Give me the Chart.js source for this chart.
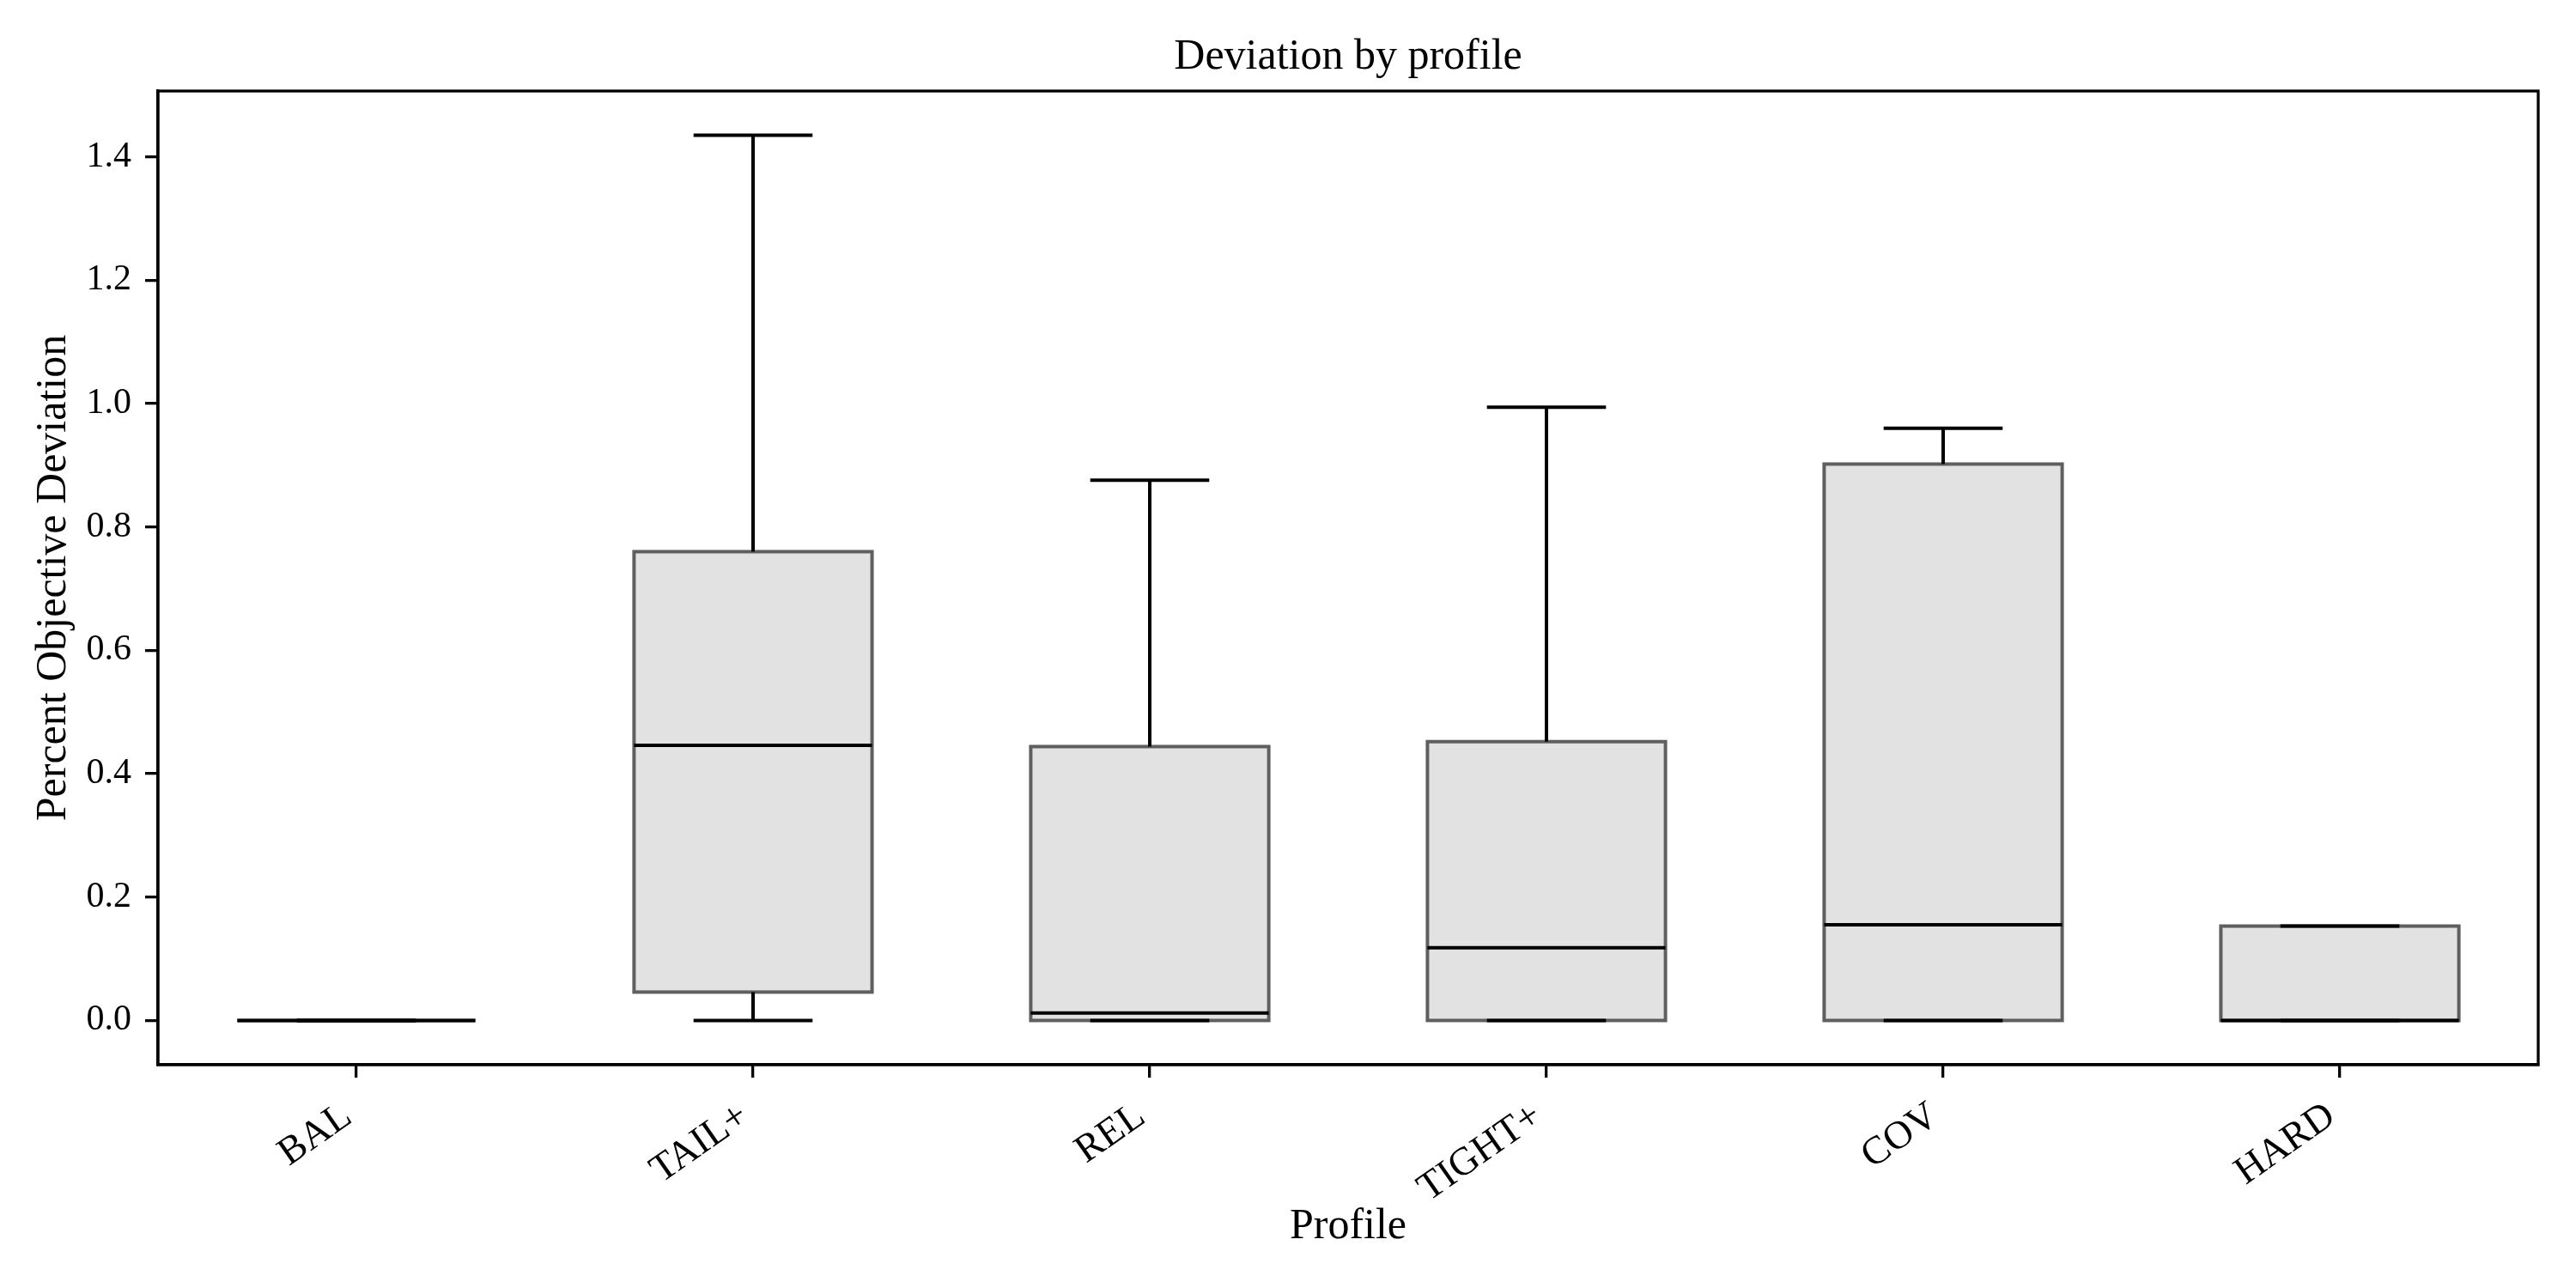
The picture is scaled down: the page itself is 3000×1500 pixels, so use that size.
<!DOCTYPE html>
<html>
<head>
<meta charset="utf-8">
<script src="https://cdn.jsdelivr.net/npm/chart.js@4.4.1/dist/chart.umd.min.js"></script>
<style>
  html, body { margin: 0; padding: 0; background: #fff; }
  #wrap { width: 3000px; height: 1500px; }
</style>
</head>
<body>
<div id="wrap"><canvas id="chart"></canvas></div>
<script>
// box plot stats per profile
const profiles = ['BAL', 'TAIL+', 'REL', 'TIGHT+', 'COV', 'HARD'];
const whiskerLow = [0, 0, 0, 0, 0, 0];
const q1 = [0, 0.046, 0, 0, 0, 0];
const medians = [0, 0.446, 0.012, 0.118, 0.155, 0];
const q3 = [0, 0.760, 0.444, 0.452, 0.902, 0.153];
const whiskerHigh = [0, 1.435, 0.876, 0.994, 0.960, 0.153];
const yTicks = [0.0, 0.2, 0.4, 0.6, 0.8, 1.0, 1.2, 1.4];
const yMin = -0.0718;
const yMax = 1.5068;

const FONT = "'Liberation Serif', 'DejaVu Serif', serif";

// box edges (centred on the box outline like matplotlib), whiskers, caps, medians, frame
const boxWhiskers = {
    id: 'boxWhiskers',
    afterDatasetsDraw(chart) {
        const { ctx, scales: { x, y } } = chart;
        const bars = chart.getDatasetMeta(0).data;
        const line = (x0, y0, x1, y1) => {
            ctx.beginPath();
            ctx.moveTo(x0, y0);
            ctx.lineTo(x1, y1);
            ctx.stroke();
        };
        ctx.save();
        ctx.lineCap = 'butt';
        ctx.lineJoin = 'miter';

        // box outlines
        ctx.strokeStyle = '#5f5f5f';
        ctx.lineWidth = 4;
        profiles.forEach((_, i) => {
            const cx = x.getPixelForValue(i);
            const w = bars[i].width;
            const yTop = y.getPixelForValue(q3[i]);
            const yBot = y.getPixelForValue(q1[i]);
            ctx.strokeRect(cx - w / 2, yTop, w, yBot - yTop);
        });

        // whiskers, caps and medians
        ctx.strokeStyle = '#000';
        ctx.lineWidth = 4;
        profiles.forEach((_, i) => {
            const cx = x.getPixelForValue(i);
            const half = bars[i].width / 2;
            const cap = half / 2;
            const yLo = y.getPixelForValue(whiskerLow[i]);
            const yHi = y.getPixelForValue(whiskerHigh[i]);
            line(cx, y.getPixelForValue(q1[i]), cx, yLo);
            line(cx, y.getPixelForValue(q3[i]), cx, yHi);
            line(cx - cap, yLo, cx + cap, yLo);
            line(cx - cap, yHi, cx + cap, yHi);
            const yMed = y.getPixelForValue(medians[i]);
            line(cx - half, yMed, cx + half, yMed);
        });
        ctx.restore();
    },
    afterDraw(chart) {
        const { ctx, chartArea: a } = chart;
        ctx.save();
        ctx.strokeStyle = '#000';
        ctx.lineWidth = 3.3;
        ctx.strokeRect(a.left, a.top, a.right - a.left, a.bottom - a.top);
        ctx.restore();
    }
};

new Chart(document.getElementById('chart'), {
    type: 'bar',
    data: {
        labels: profiles,
        datasets: [{
            data: q1.map((v, i) => [v, q3[i]]),
            backgroundColor: '#e2e2e2',
            borderWidth: 0,
            barPercentage: 0.6,
            categoryPercentage: 1.0
        }]
    },
    options: {
        responsive: true,
        maintainAspectRatio: false,
        animation: false,
        layout: { padding: { left: 0, right: 44, top: 0, bottom: 0 } },
        plugins: {
            legend: { display: false },
            tooltip: { enabled: false },
            title: {
                display: true,
                text: 'Deviation by profile',
                fullSize: false,
                color: '#000',
                font: { family: FONT, size: 50, weight: 'normal' },
                padding: { top: 37, bottom: 9 }
            }
        },
        scales: {
            x: {
                type: 'category',
                offset: true,
                afterFit: (s) => { s.height = 260; },
                grid: {
                    display: true,
                    offset: false,
                    drawOnChartArea: false,
                    drawTicks: true,
                    tickLength: 15,
                    color: '#000',
                    lineWidth: 3.3
                },
                border: { display: true, color: '#000', width: 3.3 },
                ticks: {
                    autoSkip: false,
                    minRotation: 35,
                    maxRotation: 35,
                    padding: 18,
                    labelOffset: -10,
                    color: '#000',
                    font: { family: FONT, size: 46 }
                },
                title: {
                    display: true,
                    text: 'Profile',
                    color: '#000',
                    font: { family: FONT, size: 50 },
                    padding: { top: 4, bottom: 41 }
                }
            },
            y: {
                type: 'linear',
                min: yMin,
                max: yMax,
                afterFit: (s) => { s.width = 184; },
                afterBuildTicks: (s) => { s.ticks = yTicks.map(v => ({ value: v })); },
                grid: {
                    display: true,
                    drawOnChartArea: false,
                    drawTicks: true,
                    tickLength: 15,
                    color: '#000',
                    lineWidth: 3.3
                },
                border: { display: true, color: '#000', width: 3.3 },
                ticks: {
                    padding: 16,
                    color: '#000',
                    font: { family: FONT, size: 42 },
                    callback: (v) => Number(v).toFixed(1)
                },
                title: {
                    display: true,
                    text: 'Percent Objective Deviation',
                    color: '#000',
                    font: { family: FONT, size: 50 },
                    padding: { top: 33, bottom: 0 }
                }
            }
        }
    },
    plugins: [boxWhiskers]
});
</script>
</body>
</html>
